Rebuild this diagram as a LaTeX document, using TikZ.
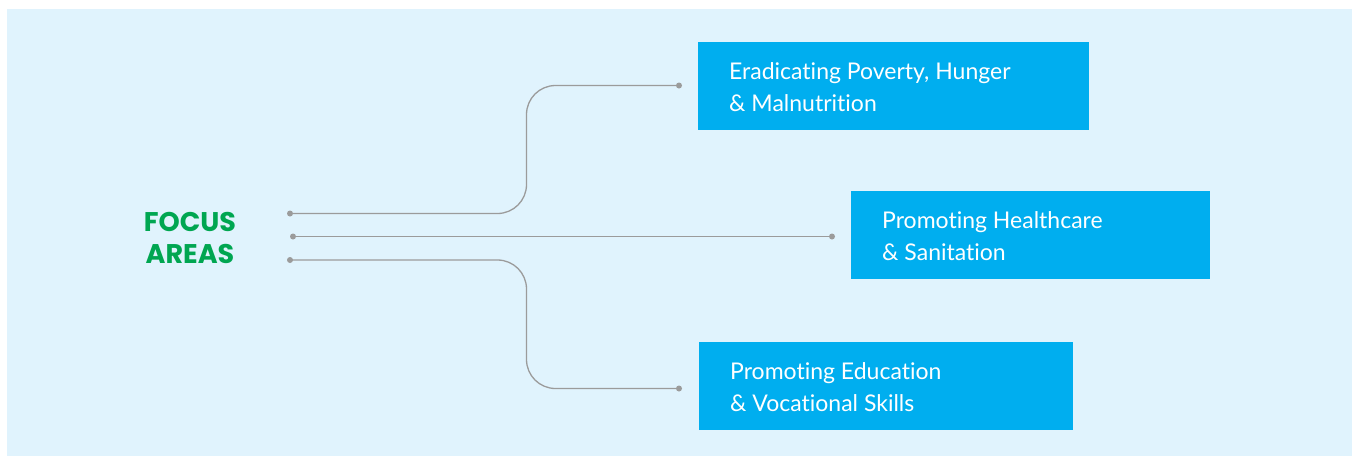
\documentclass[tikz,border=0pt]{standalone}
\usepackage{fontspec}
\setmainfont{Lato}[Ligatures={NoCommon,NoRequired,NoContextual}]
\newfontfamily\headfont{Poppins}
\definecolor{bgblue}{HTML}{E0F3FD}
\definecolor{boxblue}{HTML}{00AEEF}
\definecolor{focusgreen}{HTML}{00A651}
\definecolor{linegray}{HTML}{9B9B9B}
\begin{document}
\begin{tikzpicture}[x=1pt,y=-1pt,
  areabox/.style={fill=boxblue,draw=none,inner sep=0pt,anchor=north west},
  boxtext/.style={text=white,font=\fontsize{23}{32}\selectfont,align=left,anchor=base west,inner sep=0pt},
  dotnode/.style={circle,fill=linegray,inner sep=0pt,minimum size=6pt},
  link/.style={draw=linegray,line width=1.3pt,rounded corners=29pt}]
\useasboundingbox (0,0) rectangle (1357,456);
\fill[bgblue] (7,9) rectangle (1352,456);
% boxes
\node[areabox,minimum width=391pt,minimum height=88pt] (b1) at (698,42) {};
\node[areabox,minimum width=359pt,minimum height=88pt] (b2) at (851,191) {};
\node[areabox,minimum width=374pt,minimum height=88pt] (b3) at (699,342) {};
% texts (anchor base = baseline of last line)
\node[boxtext] (t1) at (729,111.5) {Eradicating Poverty, Hunger\\\& Malnutrition};
\node[boxtext] (t2) at (882,260) {Promoting Healthcare\\\& Sanitation};
\node[boxtext] (t3) at (730,411) {Promoting Education\\\& Vocational Skills};
% focus areas
\node[text=focusgreen,font=\headfont\bfseries\fontsize{27}{32}\selectfont,align=center,anchor=base,inner sep=0pt] (fa) at (190,263.3) {FOCUS\\AREAS};
% dots
\node[dotnode] (s1) at (290,213.5) {};
\node[dotnode] (s2) at (293,236.5) {};
\node[dotnode] (s3) at (290,260) {};
\node[dotnode] (e1) at (679,85.5) {};
\node[dotnode] (e2) at (832,236.5) {};
\node[dotnode] (e3) at (679,388.5) {};
% connectors
\draw[link] (s1.center) -- (526.5,213.5) -- (526.5,85.5) -- (e1.center);
\draw[link] (s2.center) -- (e2.center);
\draw[link] (s3.center) -- (526.5,260) -- (526.5,388.5) -- (e3.center);
\end{tikzpicture}
\end{document}
